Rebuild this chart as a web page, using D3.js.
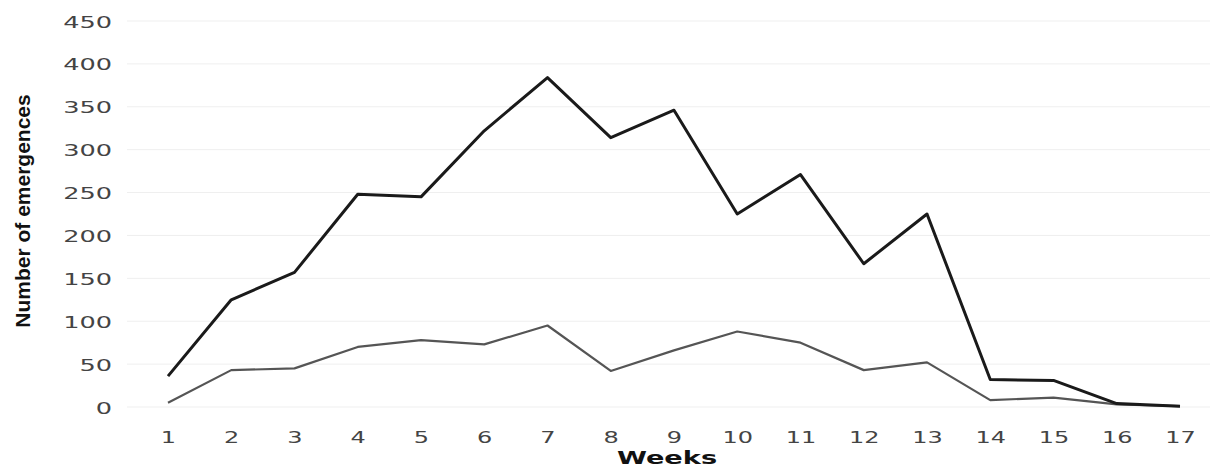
<!DOCTYPE html>
<html><head><meta charset="utf-8">
<script src="https://cdn.jsdelivr.net/npm/d3@7"></script>
<style>
body{margin:0;background:#fff;}
svg{display:block;}
.tick text{font-family:"DejaVu Sans",sans-serif;font-size:16px;fill:#444;}
</style></head><body>
<svg id="c" width="1227" height="467"></svg>
<script>
const weeks = [1,2,3,4,5,6,7,8,9,10,11,12,13,14,15,16,17];
const totalEmergences = [36,125,157,248,245,322,384,314,346,225,271,167,225,32,31,4,1];
const secondSeries = [5,43,45,70,78,73,95,42,66,88,75,43,52,8,11,3,1];
const yTicks = [0,50,100,150,200,250,300,350,400,450];

const svg = d3.select("#c");
const x = d3.scaleLinear().domain([1,17]).range([168,1180]);
const y = d3.scaleLinear().domain([0,450]).range([407,21]);

// gridlines
svg.append("g").selectAll("line").data(yTicks).join("line")
  .attr("x1",127).attr("x2",1210)
  .attr("y1",d=>y(d)).attr("y2",d=>y(d))
  .attr("stroke","#efefef").attr("stroke-width",1);

const yAxis = svg.append("g").attr("transform","translate(112,0)")
  .call(d3.axisLeft(y).tickValues(yTicks).tickSize(0).tickPadding(0));
yAxis.select(".domain").remove();
yAxis.selectAll(".tick text").attr("x",0).attr("dy","0.38em").attr("transform","scale(1.6,1)");

const xAxis = svg.append("g").attr("transform","translate(0,443)")
  .call(d3.axisBottom(x).tickValues(weeks).tickFormat(d3.format("d")).tickSize(0).tickPadding(0));
xAxis.select(".domain").remove();
xAxis.selectAll(".tick text").attr("y",0).attr("dy","0em").attr("transform","scale(1.5,1)");

const line = d3.line().x((d,i)=>x(weeks[i])).y(d=>y(d));
svg.append("path").datum(secondSeries).attr("d",line)
  .attr("fill","none").attr("stroke","#555").attr("stroke-width",2.2).attr("stroke-linejoin","round");
svg.append("path").datum(totalEmergences).attr("d",line)
  .attr("fill","none").attr("stroke","#1a1a1a").attr("stroke-width",3).attr("stroke-linejoin","round");

svg.append("g").attr("transform","translate(667,464) scale(1.6,1)")
  .append("text").attr("text-anchor","middle")
  .style("font-family","'DejaVu Sans',sans-serif").style("font-weight","bold").style("font-size","17px")
  .attr("fill","#111").text("Weeks");

svg.append("text").attr("transform","translate(30,211) rotate(-90)").attr("text-anchor","middle")
  .style("font-family","'Liberation Sans Narrow','Liberation Sans',sans-serif").style("font-weight","bold").style("font-size","21px")
  .attr("fill","#111").text("Number of emergences");
</script>
</body></html>
